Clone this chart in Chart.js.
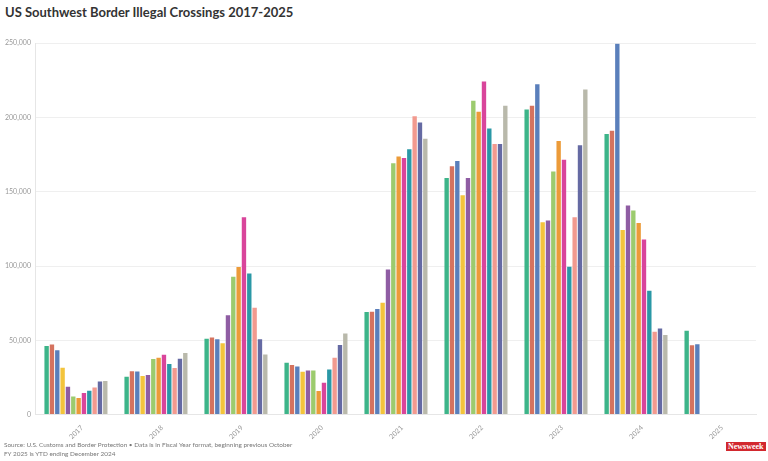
<!DOCTYPE html>
<html>
<head>
    <title>US Southwest Border Illegal Crossings 2017-2025</title>
    <script src="https://cdn.jsdelivr.net/npm/chart.js@4.4.1/dist/chart.umd.min.js"></script>
    <style>
        body {
            margin: 0;
            width: 768px;
            height: 461px;
            background: #fff;
            font-family: Lato, "Open Sans", sans-serif;
            position: relative;
            overflow: hidden;
        }
        .title {
            position: absolute;
            left: 5px;
            top: 4px;
            font-size: 13px;
            font-weight: bold;
            color: #333;
        }
        .chart-box {
            position: absolute;
            left: 0;
            top: 34px;
            width: 768px;
            height: 408px;
        }
        .footer {
            position: absolute;
            left: 4px;
            top: 440px;
            font-size: 6.4px;
            line-height: 9px;
            color: #777;
        }
        .logo {
            position: absolute;
            left: 726px;
            top: 442px;
            background: #d2282e;
            color: #fff;
            font-family: "Liberation Serif", serif;
            font-weight: bold;
            font-size: 8px;
            line-height: 9px;
            padding: 0 2px;
        }
    </style>
</head>
<body>
    <div class="title">US Southwest Border Illegal Crossings 2017-2025</div>
    <div class="chart-box"><canvas id="crossings"></canvas></div>
    <div class="footer">
        Source: U.S. Customs and Border Protection &bull; Data is in Fiscal Year format, beginning previous October<br>
        FY 2025 is YTD ending December 2024
    </div>
    <div class="logo">Newsweek</div>

    <script>
        // Fiscal years on the x axis
        const years = ['2017', '2018', '2019', '2020', '2021', '2022', '2023', '2024', '2025'];

        // One series per month of the fiscal year (Oct -> Sep)
        const oct = [46200, 25500, 51000, 34900, 69000, 159200, 205400, 188800, 56500];
        const nov = [47200, 29100, 51900, 33300, 69200, 167100, 207900, 191100, 46600];
        const dec = [43300, 29000, 50700, 32400, 71100, 170700, 222300, 249700, 47300];
        const jan = [31600, 26000, 48000, 28800, 75300, 147700, 129500, 124200, null];
        const feb = [18800, 26700, 66900, 29700, 97600, 159200, 130600, 140700, null];
        const mar = [12200, 37400, 92800, 29700, 169200, 211200, 163700, 137400, null];
        const apr = [11100, 38300, 99300, 15800, 173700, 203800, 184200, 129000, null];
        const may = [14500, 40300, 132900, 21400, 172700, 224300, 171600, 117800, null];
        const jun = [16100, 34100, 94900, 30400, 178600, 192500, 99500, 83300, null];
        const jul = [18200, 31300, 71900, 38300, 200900, 182200, 132900, 55800, null];
        const aug = [22300, 37500, 50700, 46800, 196600, 182200, 181300, 57900, null];
        const sep = [22600, 41500, 40500, 54500, 185600, 207900, 218900, 53600, null];

        const monthNames = ['Oct', 'Nov', 'Dec', 'Jan', 'Feb', 'Mar', 'Apr', 'May', 'Jun', 'Jul', 'Aug', 'Sep'];
        const monthSeries = [oct, nov, dec, jan, feb, mar, apr, may, jun, jul, aug, sep];
        const monthColors = ['#3db489', '#d5735f', '#5a7fbb', '#f3c43c', '#8f5da3', '#9ccb6e',
                             '#ec9b39', '#d9459b', '#2a98a6', '#f29a8f', '#656aa3', '#b9b9ab'];

        const yTicks = [0, 50000, 100000, 150000, 200000, 250000];

        const formatNumber = (value) => new Intl.NumberFormat('en-US').format(value);

        const datasets = monthSeries.map((values, i) => ({
            label: monthNames[i],
            data: values,
            backgroundColor: monthColors[i],
            borderWidth: 0,
            barPercentage: 0.82,
            categoryPercentage: 0.8
        }));

        new Chart(document.getElementById('crossings'), {
            type: 'bar',
            data: { labels: years, datasets: datasets },
            options: {
                responsive: true,
                maintainAspectRatio: false,
                animation: false,
                layout: { padding: { top: 4, right: 12, left: 0, bottom: 0 } },
                plugins: {
                    legend: { display: false },
                    tooltip: { enabled: false }
                },
                scales: {
                    x: {
                        grid: { display: false },
                        border: { color: '#e6e6e6' },
                        ticks: {
                            color: '#999',
                            font: { size: 7, family: 'Lato' },
                            maxRotation: 45,
                            minRotation: 45,
                            labelOffset: 6,
                            padding: 1
                        }
                    },
                    y: {
                        min: 0,
                        max: 250000,
                        afterBuildTicks: (axis) => {
                            axis.ticks = yTicks.map(v => ({ value: v }));
                        },
                        grid: { color: '#efefef', drawTicks: false },
                        border: { color: '#e6e6e6' },
                        ticks: {
                            color: '#999',
                            font: { size: 7, family: 'Lato' },
                            padding: 5,
                            callback: (value) => formatNumber(value)
                        }
                    }
                }
            }
        });
    </script>
</body>
</html>
